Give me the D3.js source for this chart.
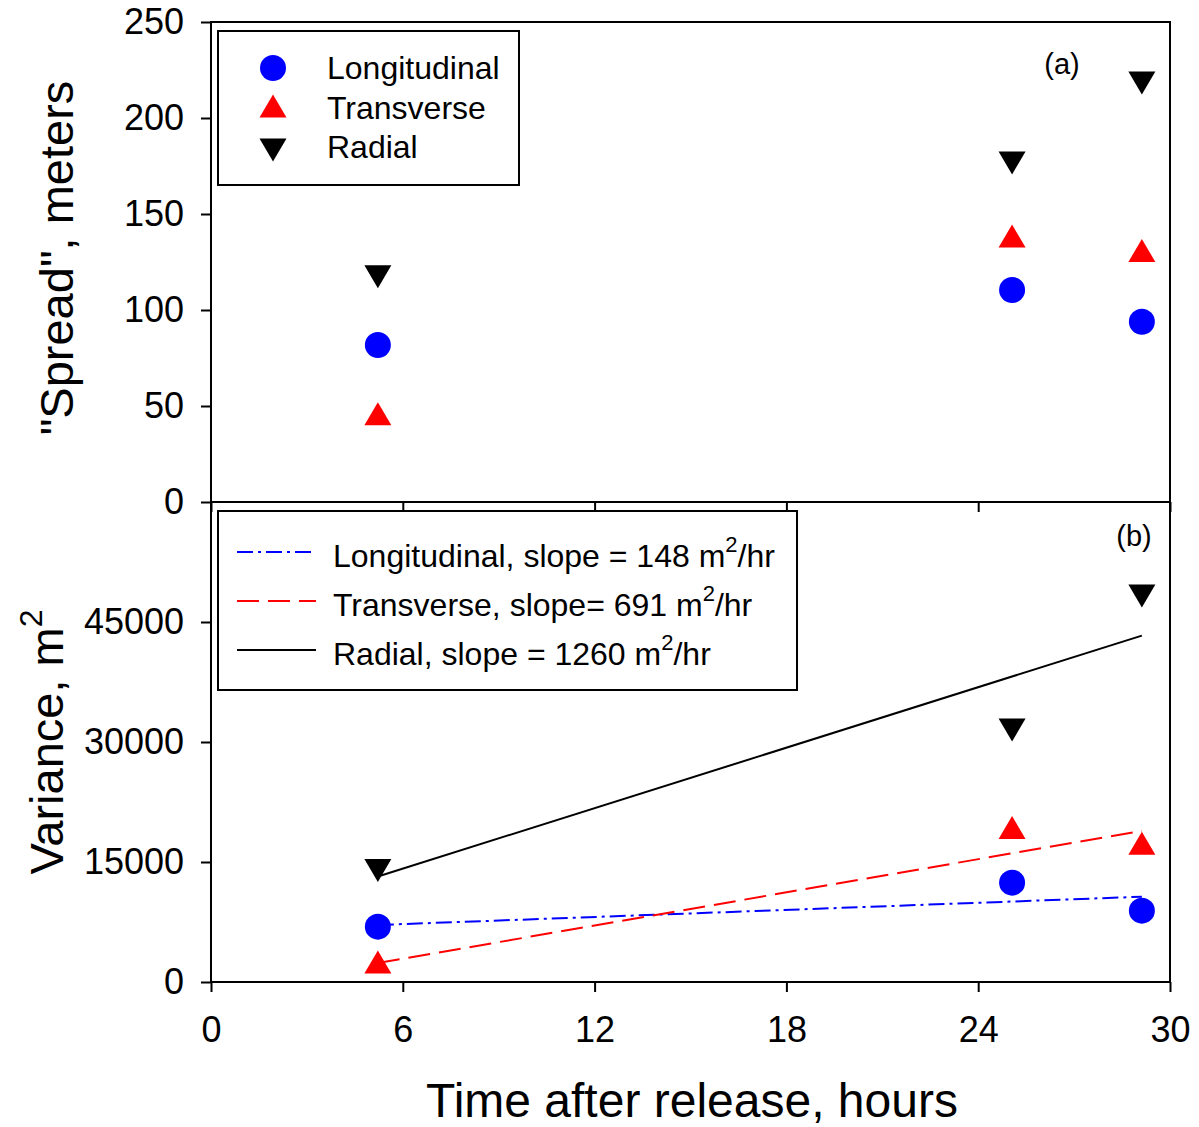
<!DOCTYPE html>
<html>
<head>
<meta charset="utf-8">
<script src="https://cdn.jsdelivr.net/npm/d3@7"></script>
<style>
  body { margin: 0; background: #fff; }
  svg { font-family: "Liberation Sans", Arial, sans-serif; }
  .axis path, .axis line { stroke: #000; stroke-width: 2; }
  .axis text { font-size: 36px; fill: #000; }
</style>
</head>
<body>
<svg id="chart" width="1199" height="1127"></svg>
<script>
// Datos
var times = [5.22, 25.06, 29.12];
var spreadLong = [81.8, 110.4, 93.9];
var spreadTrans = [46, 138.5, 131];
var spreadRadial = [117.3, 176.6, 218.2];
var varLong = [6917, 12417, 8917];
var varTrans = [2500, 19312, 17333];
var varRadial = [13937, 31500, 48250];
var fitTimes = [5.22, 29.12];
var fitLong = [7125, 10660];
var fitTrans = [2375, 18890];
var fitRadial = [13190, 43300];
var xTicks = [0, 6, 12, 18, 24, 30];
var topTicks = [0, 50, 100, 150, 200, 250];
var botTicks = [0, 15000, 30000, 45000];
var seriesNames = ["Longitudinal", "Transverse", "Radial"];
var slopes = ["Longitudinal, slope = 148 m", "Transverse, slope= 691 m", "Radial, slope = 1260 m"];

var svg = d3.select("#chart");
var left = 211, right = 1170;

var x = d3.scaleLinear().domain([0, 30]).range([left, right]);
var yTop = d3.scaleLinear().domain([0, 250]).range([502, 22]);
var yBot = d3.scaleLinear().domain([0, 60000]).range([982, 502]);

// simbolos estilo SigmaPlot
var tri = function(cx, cy, up) {
    var w = 13.5, h = 11.5;
    if (up) return "M" + cx + "," + (cy - h) + "L" + (cx + w) + "," + (cy + h) + "L" + (cx - w) + "," + (cy + h) + "Z";
    return "M" + (cx - w) + "," + (cy - h) + "L" + (cx + w) + "," + (cy - h) + "L" + cx + "," + (cy + h) + "Z";
};

var drawPoints = function(g, y, l, t, r) {
    times.forEach(function(tm, i) {
        g.append("circle").attr("cx", x(tm)).attr("cy", y(l[i])).attr("r", 13).attr("fill", "#0000ff");
        g.append("path").attr("d", tri(x(tm), y(t[i]), true)).attr("fill", "#ff0000");
        g.append("path").attr("d", tri(x(tm), y(r[i]), false)).attr("fill", "#000");
    });
};

// ---- panel (a)
var gA = svg.append("g");
gA.append("rect").attr("x", left).attr("y", 22).attr("width", right - left).attr("height", 480)
    .attr("fill", "none").attr("stroke", "#000").attr("stroke-width", 2);

gA.append("g").attr("class", "axis").attr("transform", "translate(" + left + ",0)")
    .call(d3.axisLeft(yTop).tickValues(topTicks).tickSize(10).tickPadding(17).tickSizeOuter(0))
    .call(function(a) { a.select(".domain").remove(); });

gA.append("g").attr("class", "axis").attr("transform", "translate(0,502)")
    .call(d3.axisBottom(x).tickValues(xTicks).tickSize(10).tickFormat("").tickSizeOuter(0))
    .call(function(a) { a.select(".domain").remove(); });

drawPoints(gA, yTop, spreadLong, spreadTrans, spreadRadial);

gA.append("text").attr("x", 1062).attr("y", 74).attr("text-anchor", "middle")
    .attr("font-size", 29).text("(a)");

// leyenda (a)
var legA = gA.append("g");
legA.append("rect").attr("x", 218).attr("y", 31).attr("width", 301).attr("height", 154)
    .attr("fill", "#fff").attr("stroke", "#000").attr("stroke-width", 2);
legA.append("circle").attr("cx", 273).attr("cy", 68).attr("r", 13).attr("fill", "#0000ff");
legA.append("path").attr("d", tri(273, 106, true)).attr("fill", "#ff0000");
legA.append("path").attr("d", tri(273, 150, false)).attr("fill", "#000");
legA.selectAll("text").data(seriesNames).enter().append("text")
    .attr("x", 327)
    .attr("y", function(d, i) { return 79 + i * 39.5; })
    .attr("font-size", 32)
    .text(function(d) { return d; });

// ---- panel (b)
var gB = svg.append("g");
gB.append("rect").attr("x", left).attr("y", 502).attr("width", right - left).attr("height", 480)
    .attr("fill", "none").attr("stroke", "#000").attr("stroke-width", 2);

gB.append("g").attr("class", "axis").attr("transform", "translate(" + left + ",0)")
    .call(d3.axisLeft(yBot).tickValues(botTicks).tickSize(10).tickPadding(17).tickSizeOuter(0).tickFormat(d3.format("d")))
    .call(function(a) { a.select(".domain").remove(); });

gB.append("g").attr("class", "axis").attr("transform", "translate(0,982)")
    .call(d3.axisBottom(x).tickValues(xTicks).tickSize(10).tickPadding(24).tickSizeOuter(0))
    .call(function(a) { a.select(".domain").remove(); });

var line = d3.line().x(function(d) { return x(d[0]); }).y(function(d) { return yBot(d[1]); });
var fits = [
    {v: fitLong, c: "#0000ff", dash: "16,5,3,5"},
    {v: fitTrans, c: "#ff0000", dash: "22,9"},
    {v: fitRadial, c: "#000", dash: null}
];
fits.forEach(function(f) {
    gB.append("path")
        .attr("d", line(fitTimes.map(function(t, i) { return [t, f.v[i]]; })))
        .attr("fill", "none").attr("stroke", f.c).attr("stroke-width", 2)
        .attr("stroke-dasharray", f.dash);
});

drawPoints(gB, yBot, varLong, varTrans, varRadial);

gB.append("text").attr("x", 1134).attr("y", 546).attr("text-anchor", "middle")
    .attr("font-size", 29).text("(b)");

// leyenda (b)
var legB = gB.append("g");
legB.append("rect").attr("x", 218).attr("y", 511).attr("width", 579).attr("height", 179)
    .attr("fill", "#fff").attr("stroke", "#000").attr("stroke-width", 2);
fits.forEach(function(f, i) {
    legB.append("line").attr("x1", 237).attr("x2", 316)
        .attr("y1", 552 + i * 49).attr("y2", 552 + i * 49)
        .attr("stroke", f.c).attr("stroke-width", 2).attr("stroke-dasharray", f.dash);
    var t = legB.append("text").attr("x", 333).attr("y", 567 + i * 49).attr("font-size", 32);
    t.append("tspan").text(slopes[i]);
    t.append("tspan").attr("font-size", 22).attr("dy", -15).text("2");
    t.append("tspan").attr("dy", 15).text("/hr");
});

// titulos de ejes
svg.append("text").attr("transform", "translate(73,258) rotate(-90)")
    .attr("text-anchor", "middle").attr("font-size", 47).text("\"Spread\", meters");

var vt = svg.append("text").attr("transform", "translate(63,742) rotate(-90)")
    .attr("text-anchor", "middle").attr("font-size", 47);
vt.append("tspan").text("Variance, m");
vt.append("tspan").attr("font-size", 32).attr("dy", -21).text("2");

svg.append("text").attr("x", 692).attr("y", 1117).attr("text-anchor", "middle")
    .attr("font-size", 48).text("Time after release, hours");
</script>
</body>
</html>
